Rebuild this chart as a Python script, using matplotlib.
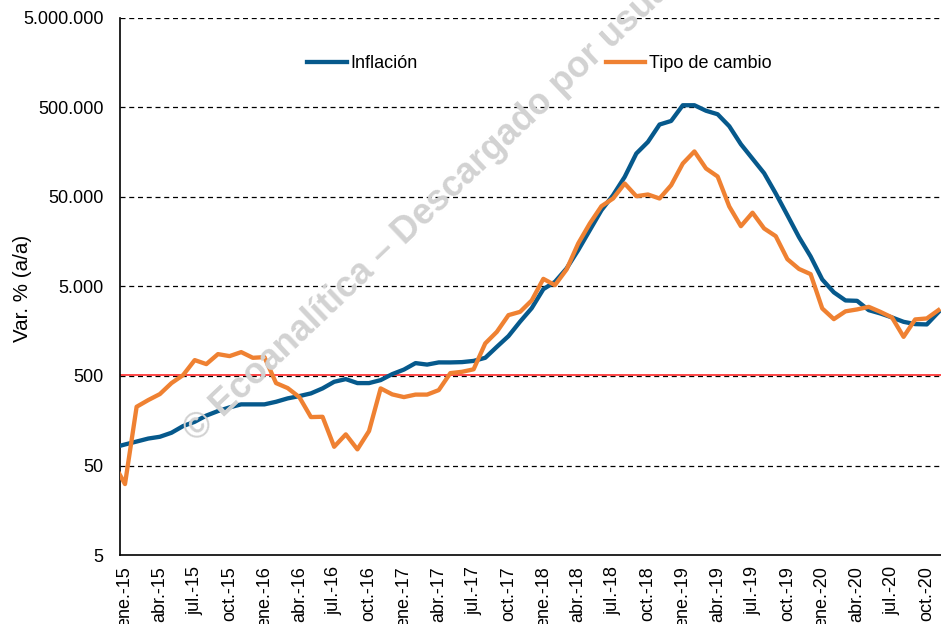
import matplotlib
matplotlib.use("Agg")
import matplotlib.pyplot as plt
import matplotlib.transforms as mtransforms
from matplotlib.ticker import FixedLocator, NullLocator

plt.rcParams['font.family'] = ['Liberation Sans', 'DejaVu Sans']

# Monthly data from dic-14 (index -1) to nov-20 (index 70)
inflacion = [79.3, 85.9, 92.6, 100, 104.7, 116.1, 137.9, 154, 180.6, 202.8,
             223, 241, 241, 241, 257.6, 281.1, 298.2, 319.6, 363.5, 430.8,
             461.7, 416.6, 416.6, 450, 525, 589.5, 696.7, 670.4, 709.4, 709,
             714.8, 737.2, 798.5, 1059.5, 1395, 2025, 2865, 4670, 5636, 7955,
             12735, 21300, 35600, 52370, 83850, 153000, 206200, 322600, 353800, 529800,
             529800, 459900, 420300, 308800, 194400, 133900, 92200, 54700, 31310, 17790,
             10830, 5993, 4302, 3493, 3458, 2722, 2500, 2256, 2015, 1900,
             1885, 2585]
tipo_cambio = [53.3, 31.0, 226.5, 269.1, 314, 416.6, 511.9, 752.6, 679, 878,
               834, 924.5, 798.5, 812.8, 416.6, 366.4, 290.6, 173.8, 175.1, 81.0,
               111.4, 75.7, 121.3, 363.5, 311.5, 290.6, 309.9, 309.9, 347.9, 538.7,
               557, 594, 1156, 1558, 2394, 2605, 3493, 6086, 5177, 7752,
               15125, 25300, 39470, 48120, 70750, 51040, 53330, 48120, 67720, 118300,
               161500, 104100, 84700, 39160, 23600, 33390, 22250, 18250, 10100, 7852,
               6870, 2844, 2160, 2639, 2772, 2963, 2605, 2256, 1370, 2143,
               2199, 2722]
month_idx = list(range(-1, 71))

tick_labels = ['ene.-15', 'abr.-15', 'jul.-15', 'oct.-15',
               'ene.-16', 'abr.-16', 'jul.-16', 'oct.-16',
               'ene.-17', 'abr.-17', 'jul.-17', 'oct.-17',
               'ene.-18', 'abr.-18', 'jul.-18', 'oct.-18',
               'ene.-19', 'abr.-19', 'jul.-19', 'oct.-19',
               'ene.-20', 'abr.-20', 'jul.-20', 'oct.-20']
tick_pos = list(range(0, 70, 3))

y_ticks = [5, 50, 500, 5000, 50000, 500000, 5000000]
y_labels = ['5', '50', '500', '5.000', '50.000', '500.000', '5.000.000']
ref_level = 500

FS = 13

fig = plt.figure(figsize=(9.41, 6.24), dpi=100)
ax = fig.add_axes([120/941, 1-555/624, 821/941, 537/624])

ax.set_yscale('log')
ax.set_ylim(5, 5000000)
ax.set_xlim(-0.43, 70.22)

# watermark
fig.text(190/941, 1-436/624, '© Ecoanalítica – Descargado por usuario',
         rotation=43.5, rotation_mode='anchor', ha='left', va='center',
         fontsize=26, fontweight='bold', color='#d2d2d2', zorder=0)

for v in y_ticks[1:]:
    ax.axhline(v, color='black', lw=0.9, ls=(0, (4, 3)), zorder=2)
red_tr = mtransforms.offset_copy(ax.get_yaxis_transform(), fig=fig, x=0, y=1.3, units='dots')
ax.plot([0, 1], [ref_level, ref_level], color='#ff2a2a', lw=1.2, zorder=2.5, transform=red_tr)

ax.plot(month_idx, inflacion, color='#06598c', lw=3.1, label='Inflación', zorder=3,
        solid_joinstyle='round')
ax.plot(month_idx, tipo_cambio, color='#ef8132', lw=3.1, label='Tipo de cambio', zorder=4,
        solid_joinstyle='round')

ax.yaxis.set_major_locator(FixedLocator(y_ticks))
ax.set_yticklabels(y_labels)
ax.yaxis.set_minor_locator(NullLocator())
ax.set_xticks(tick_pos)
ax.set_xticklabels(tick_labels, rotation=90, ha='center', va='top')
ax.tick_params(axis='both', length=0, labelsize=FS, colors='black')
ax.tick_params(axis='y', pad=12)
ax.tick_params(axis='x', pad=8)

ax.set_ylabel('Var. % (a/a)', fontsize=14.8)
ax.yaxis.set_label_coords(-88/821, (555-288)/537)

for s in ['top', 'right']:
    ax.spines[s].set_visible(False)
ax.spines['left'].set_linewidth(1.2)
ax.spines['bottom'].set_linewidth(1.2)
ax.patch.set_alpha(0)

leg = ax.legend(loc='center left', bbox_to_anchor=((307-120)/821, (555-64)/537),
                ncol=2, frameon=False, fontsize=FS, handlelength=2.2,
                handletextpad=0.22, columnspacing=10.4, borderpad=0, borderaxespad=0)

fig.savefig('out.png', dpi=100)
